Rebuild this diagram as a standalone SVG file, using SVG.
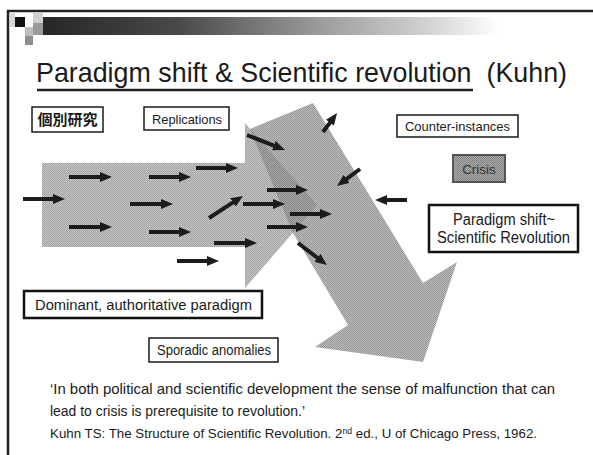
<svg xmlns="http://www.w3.org/2000/svg" width="593" height="455" viewBox="0 0 593 455">
  <style>
    .sans { font-family: "Liberation Sans", Arial, sans-serif; fill: #1a1a1a; }
    .cjk { font-family: "Liberation Sans", "Noto Sans CJK JP", sans-serif; font-weight: bold; fill: #1a1a1a; }
    .box { fill: #ffffff; stroke: #1a1a1a; stroke-width: 1.5; }
    .boxb { fill: #ffffff; stroke: #111111; stroke-width: 2.5; }
    .arr { stroke: #1c1c1c; stroke-width: 4; fill: none; marker-end: url(#head); }
  </style>
  <defs>
    <linearGradient id="bar" x1="0" y1="0" x2="1" y2="0">
      <stop offset="0" stop-color="#262626"/>
      <stop offset="0.3" stop-color="#4a4a4a"/>
      <stop offset="0.6" stop-color="#9a9a9a"/>
      <stop offset="0.85" stop-color="#d4d4d4"/>
      <stop offset="1" stop-color="#ffffff"/>
    </linearGradient>
    <pattern id="dotA" width="2" height="2" patternUnits="userSpaceOnUse">
      <rect width="2" height="2" fill="#c6c6c6"/>
      <rect width="1" height="1" fill="#a2a2a2"/>
      <rect x="1" y="1" width="1" height="1" fill="#a2a2a2"/>
    </pattern>
    <pattern id="dotB" width="2" height="2" patternUnits="userSpaceOnUse">
      <rect width="2" height="2" fill="#bcbcbc"/>
      <rect width="1" height="1" fill="#969696"/>
      <rect x="1" y="1" width="1" height="1" fill="#969696"/>
    </pattern>
    <pattern id="dotC" width="2" height="2" patternUnits="userSpaceOnUse">
      <rect width="2" height="2" fill="#a8a8a8"/>
      <rect width="1" height="1" fill="#848484"/>
      <rect x="1" y="1" width="1" height="1" fill="#848484"/>
    </pattern>
    <marker id="head" viewBox="0 0 12 10" refX="2" refY="5" markerWidth="12" markerHeight="10" markerUnits="userSpaceOnUse" orient="auto">
      <path d="M0,0 L12,5 L0,10 z" fill="#1c1c1c"/>
    </marker>
    <path id="bandShape" d="M42,163 H245 V123 L317,205 L245,288 V247 H42 Z"/>
    <path id="bigShape" d="M313,103 L423,283 L457,262 L423,362 L315,347 L348,325 L293,233 L250,129 Z"/>
    <clipPath id="bandClip"><use href="#bandShape"/></clipPath>
  </defs>

  <rect width="593" height="455" fill="#ffffff"/>

  <!-- slide frame -->
  <g id="frame">
    <line x1="7" y1="11" x2="593" y2="11" stroke="#222" stroke-width="2.5"/>
    <line x1="8" y1="10" x2="8" y2="455" stroke="#222" stroke-width="2.5"/>
  </g>

  <!-- header bar -->
  <g id="header">
    <rect x="10" y="12" width="5" height="15" fill="#d6d6d6"/>
    <rect x="15" y="17" width="10" height="10" fill="#111"/>
    <rect x="33" y="13" width="10" height="10" fill="#cfcfcf"/>
    <rect x="33" y="23" width="10" height="12" fill="#9a9a9a"/>
    <rect x="25" y="27" width="8" height="9" fill="#bdbdbd"/>
    <rect x="25" y="36" width="8" height="9" fill="#8e8e8e"/>
    <rect x="43" y="17" width="457" height="18" fill="url(#bar)"/>
  </g>

  <!-- title -->
  <g id="title">
    <text class="sans" x="36" y="82" font-size="28" textLength="531" lengthAdjust="spacingAndGlyphs" xml:space="preserve" style="white-space:pre">Paradigm shift &amp; Scientific revolution  (Kuhn)</text>
    <line x1="37" y1="90" x2="473" y2="90" stroke="#222" stroke-width="2.5"/>
  </g>

  <!-- large shaded arrows -->
  <g id="band-arrow">
    <use href="#bandShape" fill="url(#dotA)"/>
  </g>
  <g id="shift-arrow">
    <use href="#bigShape" fill="url(#dotB)"/>
    <use href="#bigShape" fill="url(#dotC)" clip-path="url(#bandClip)"/>
  </g>

  <!-- small arrows -->
  <g id="connectors">
    <line class="arr" x1="23" y1="199" x2="55" y2="199"/>
    <line class="arr" x1="69" y1="177" x2="102" y2="177"/>
    <line class="arr" x1="69" y1="227" x2="102" y2="227"/>
    <line class="arr" x1="149" y1="177" x2="181" y2="177"/>
    <line class="arr" x1="130" y1="204" x2="163" y2="204"/>
    <line class="arr" x1="149" y1="232" x2="181" y2="232"/>
    <line class="arr" x1="196" y1="168" x2="228" y2="168"/>
    <line class="arr" x1="209" y1="218" x2="234.6" y2="201.4"/>
    <line class="arr" x1="243" y1="204" x2="275" y2="204"/>
    <line class="arr" x1="214" y1="243" x2="247" y2="243"/>
    <line class="arr" x1="177" y1="261" x2="209" y2="261"/>
    <line class="arr" x1="247" y1="135" x2="275.7" y2="146.3"/>
    <line class="arr" x1="323" y1="132" x2="331.1" y2="121.1"/>
    <line class="arr" x1="360" y1="169" x2="345" y2="180.1"/>
    <line class="arr" x1="407" y1="200" x2="385" y2="200"/>
    <line class="arr" x1="267" y1="190" x2="298" y2="190"/>
    <line class="arr" x1="290" y1="214" x2="322" y2="214"/>
    <line class="arr" x1="267" y1="227" x2="298" y2="227"/>
    <line class="arr" x1="298" y1="243" x2="319" y2="259"/>
  </g>

  <!-- labels -->
  <g id="individual-studies">
    <rect class="box" x="32" y="107" width="71" height="25"/>
    <text class="cjk" x="67.5" y="125" font-size="15" text-anchor="middle">個別研究</text>
  </g>
  <g id="replications">
    <rect class="box" x="144" y="107" width="85" height="23"/>
    <text class="sans" x="187" y="123.5" font-size="13" text-anchor="middle" textLength="70" lengthAdjust="spacingAndGlyphs">Replications</text>
  </g>
  <g id="counter-instances">
    <rect class="box" x="397" y="115" width="121" height="22"/>
    <text class="sans" x="457.5" y="131" font-size="13.5" text-anchor="middle" textLength="105" lengthAdjust="spacingAndGlyphs">Counter-instances</text>
  </g>
  <g id="crisis">
    <rect x="453" y="155" width="52" height="27" fill="url(#dotC)" stroke="#555" stroke-width="2"/>
    <text class="sans" x="479" y="173.5" font-size="13.5" text-anchor="middle" style="fill:#333">Crisis</text>
  </g>
  <g id="paradigm-shift">
    <rect class="boxb" x="429" y="205" width="149" height="47"/>
    <text class="sans" x="504" y="225" font-size="16" text-anchor="middle" textLength="102" lengthAdjust="spacingAndGlyphs">Paradigm shift~</text>
    <text class="sans" x="503.5" y="243" font-size="16" text-anchor="middle" textLength="133" lengthAdjust="spacingAndGlyphs">Scientific Revolution</text>
  </g>
  <g id="dominant-paradigm">
    <rect class="boxb" x="24" y="291" width="238" height="27"/>
    <text class="sans" x="35" y="310" font-size="15.5" textLength="217" lengthAdjust="spacingAndGlyphs">Dominant, authoritative paradigm</text>
  </g>
  <g id="sporadic-anomalies">
    <rect class="box" x="149" y="338" width="129" height="24"/>
    <text class="sans" x="157" y="355" font-size="14" textLength="114" lengthAdjust="spacingAndGlyphs">Sporadic anomalies</text>
  </g>

  <!-- quotation and reference -->
  <g id="quote">
    <text class="sans" x="50" y="394" font-size="14.8" textLength="505" lengthAdjust="spacingAndGlyphs">‘In both political and scientific development the sense of malfunction that can</text>
    <text class="sans" x="50" y="416" font-size="14.8" textLength="255" lengthAdjust="spacingAndGlyphs">lead to crisis is prerequisite to revolution.’</text>
    <text class="sans" x="50" y="438" font-size="13" textLength="487" lengthAdjust="spacingAndGlyphs">Kuhn TS: The Structure of Scientific Revolution. 2<tspan font-size="8.5" dy="-4.5">nd</tspan><tspan dy="4.5"> ed., U of Chicago Press, 1962.</tspan></text>
  </g>
</svg>
